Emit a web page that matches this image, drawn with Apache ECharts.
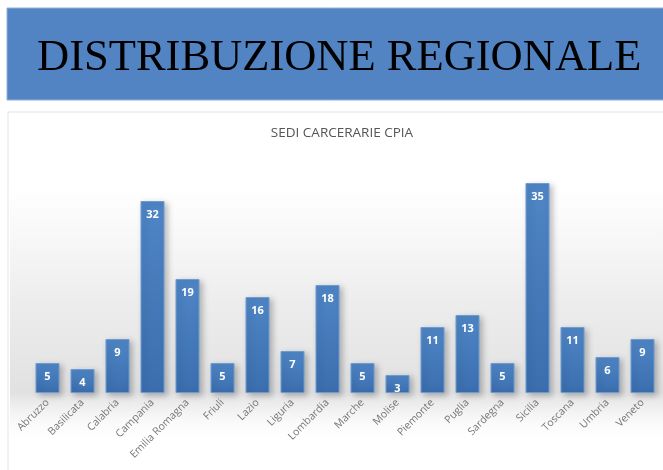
<!DOCTYPE html>
<html>
<head>
<meta charset="utf-8">
<script src="https://cdn.jsdelivr.net/npm/echarts@6/dist/echarts.min.js"></script>
<style>
  html, body { margin: 0; padding: 0; background: #fff; }
  #chart { width: 663px; height: 470px; }
</style>
</head>
<body>
<div id="chart"></div>
<script>
const regioni = ["Abruzzo", "Basilicata", "Calabria", "Campania", "Emilia Romagna", "Friuli", "Lazio", "Liguria", "Lombardia", "Marche", "Molise", "Piemonte", "Puglia", "Sardegna", "Sicilia", "Toscana", "Umbria", "Veneto"];
const sedi = [5, 4, 9, 32, 19, 5, 16, 7, 18, 5, 3, 11, 13, 5, 35, 11, 6, 9];

const myChart = echarts.init(document.getElementById("chart"));

const option = {
  animation: false,
  backgroundColor: "#fff",
  title: {
    text: "SEDI CARCERARIE CPIA",
    left: 337,
    top: 121,
    textAlign: "center",
    textStyle: {
      fontFamily: "Open Sans",
      fontSize: 13.5,
      fontWeight: "normal",
      color: "#555",
    },
  },
  graphic: [
    // banner blu
    {
      type: "rect",
      z: 0,
      shape: { x: 7, y: 8, width: 660, height: 92 },
      style: { fill: "#5284c4", stroke: "#8fb0d8", lineWidth: 1 },
    },
    {
      type: "text",
      z: 1,
      left: 37,
      top: 36,
      style: {
        text: "DISTRIBUZIONE REGIONALE",
        font: "44.5px 'Liberation Serif'",
        fill: "#000",
      },
    },
    // area del grafico
    {
      type: "rect",
      z: 0,
      shape: { x: 8, y: 112, width: 660, height: 370 },
      style: { fill: "#fff", stroke: "#e4e4e4", lineWidth: 1 },
    },
    // sfondo grigio sfumato
    {
      type: "rect",
      z: 0,
      shape: { x: 10, y: 185, width: 653, height: 260 },
      style: {
        fill: new echarts.graphic.LinearGradient(0, 0, 0, 1, [
          { offset: 0, color: "rgba(235,235,235,0)" },
          { offset: 0.45, color: "rgba(232,232,232,0.8)" },
          { offset: 0.8, color: "rgba(225,225,225,1)" },
          { offset: 1, color: "rgba(255,255,255,0)" },
        ]),
      },
    },
  ],
  grid: {
    left: 30,
    right: 3,
    top: 183,
    bottom: 77,
  },
  xAxis: {
    type: "category",
    data: regioni,
    axisLine: { show: false },
    axisTick: { show: false },
    axisLabel: {
      rotate: 45,
      interval: 0,
      margin: 8,
      fontFamily: "Open Sans",
      fontSize: 10.5,
      color: "#777",
    },
  },
  yAxis: {
    type: "value",
    min: 0,
    max: 35,
    show: false,
    splitLine: { show: false },
  },
  series: [
    {
      name: "Sedi",
      type: "bar",
      barWidth: 24,
      data: sedi,
      itemStyle: {
        color: new echarts.graphic.LinearGradient(0, 0, 0, 1, [
          { offset: 0, color: "#4f86c6" },
          { offset: 1, color: "#3b6eae" },
        ]),
        borderColor: "#6d9bd2",
        borderWidth: 1,
        shadowColor: "rgba(0,0,0,0.25)",
        shadowBlur: 6,
        shadowOffsetX: 3,
        shadowOffsetY: 2,
      },
      label: {
        show: true,
        position: "insideTop",
        distance: 8,
        color: "#fff",
        fontFamily: "Open Sans",
        fontWeight: "bold",
        fontSize: 11,
      },
    },
  ],
};

myChart.setOption(option);
</script>
</body>
</html>
